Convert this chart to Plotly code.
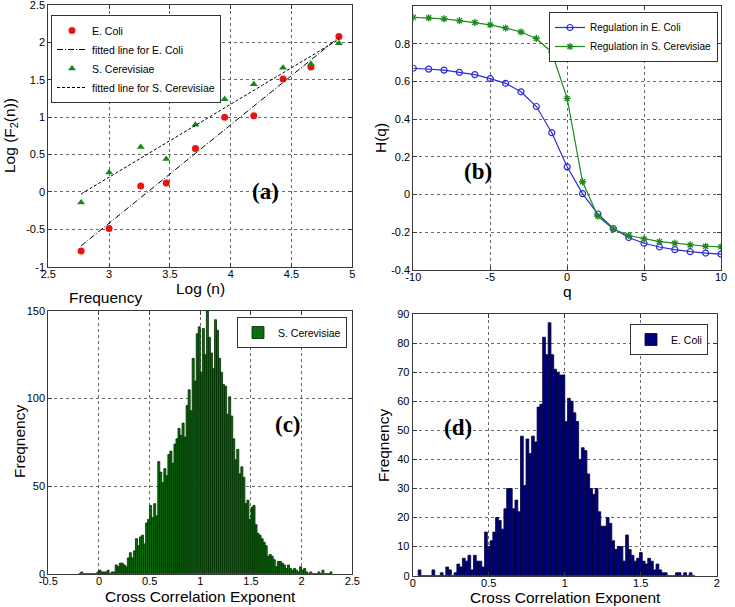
import numpy as np
import plotly.graph_objects as go

# ---------------- data ----------------
# Panel (a): log-log fluctuation function
log_n = [2.77, 3.00, 3.26, 3.47, 3.71, 3.95, 4.19, 4.43, 4.66, 4.89]
log_f2_ecoli = [-0.79, -0.49, 0.08, 0.12, 0.58, 1.00, 1.02, 1.51, 1.67, 2.08]
log_f2_scer = [-0.14, 0.26, 0.60, 0.44, 0.90, 1.24, 1.44, 1.66, 1.71, 1.99]

# Panel (b): generalized Hurst exponent
q_values = [-10, -9, -8, -7, -6, -5, -4, -3, -2, -1, 0, 1, 2, 3, 4, 5, 6, 7, 8, 9, 10]
h_ecoli = [0.670, 0.665, 0.660, 0.648, 0.636, 0.615, 0.590, 0.545, 0.467, 0.328, 0.147,
           0.005, -0.103, -0.180, -0.228, -0.258, -0.278, -0.292, -0.303, -0.310, -0.316]
h_scer = [0.940, 0.937, 0.932, 0.922, 0.913, 0.900, 0.883, 0.862, 0.828, 0.755, 0.510,
          0.068, -0.115, -0.183, -0.217, -0.235, -0.250, -0.258, -0.267, -0.274, -0.277]

# Panel (c): histogram of S. Cerevisiae cross correlation exponents
c_first_center = -0.19
c_bin_width = 0.02
c_counts = [0, 1, 0, 0, 0, 0, 0, 0, 0, 1,
            2, 1, 1, 1, 2, 0, 1, 1, 5, 4,
            6, 6, 5, 4, 9, 12, 9, 13, 20, 16,
            21, 22, 17, 29, 31, 39, 32, 40, 33, 64,
            58, 52, 60, 56, 68, 70, 63, 74, 77, 83,
            79, 86, 78, 96, 105, 93, 123, 110, 137, 141,
            115, 140, 125, 150, 135, 126, 117, 145, 139, 123,
            115, 108, 107, 91, 101, 90, 77, 65, 71, 57,
            61, 55, 40, 42, 31, 38, 39, 28, 23, 22,
            20, 18, 16, 10, 11, 10, 8, 4, 7, 7,
            6, 5, 3, 5, 3, 2, 3, 2, 1, 4,
            2, 3, 1, 0, 1, 0, 0, 0, 1, 0,
            2, 0, 0, 0, 1]

# Panel (d): histogram of E. Coli cross correlation exponents
d_first_center = 0.045
d_bin_width = 0.0182
d_counts = [2, 0, 0, 0, 0, 2, 0, 0, 1, 0,
            3, 2, 0, 1, 4, 3, 6, 5, 7, 2,
            7, 5, 5, 3, 15, 10, 12, 15, 20, 19,
            16, 23, 30, 30, 23, 26, 22, 48, 31, 47,
            42, 48, 46, 58, 59, 82, 76, 87, 76, 71,
            70, 69, 69, 53, 61, 60, 56, 53, 40, 44,
            43, 35, 30, 28, 30, 22, 17, 17, 20, 18,
            12, 9, 10, 10, 5, 14, 9, 7, 5, 6,
            8, 5, 4, 6, 5, 2, 4, 2, 1, 1,
            0, 0, 0, 1, 1, 0, 1, 0, 1, 0]

# tick values / labels
a_xticks = [2.5, 3, 3.5, 4, 4.5, 5]
a_xlabels = ['2.5', '3', '3.5', '4', '4.5', '5']
a_yticks = [-1, -0.5, 0, 0.5, 1, 1.5, 2, 2.5]
a_ylabels = ['-1', '-0.5', '0', '0.5', '1', '1.5', '2', '2.5']
b_xticks = [-10, -5, 0, 5, 10]
b_xlabels = ['-10', '-5', '0', '5', '10']
b_yticks = [-0.4, -0.2, 0, 0.2, 0.4, 0.6, 0.8]
b_ylabels = ['-0.4', '-0.2', '0', '0.2', '0.4', '0.6', '0.8']
c_xticks = [-0.5, 0, 0.5, 1, 1.5, 2, 2.5]
c_xlabels = ['-0.5', '0', '0.5', '1', '1.5', '2', '2.5']
c_yticks = [0, 50, 100, 150]
c_ylabels = ['0', '50', '100', '150']
d_xticks = [0, 0.5, 1, 1.5, 2]
d_xlabels = ['0', '0.5', '1', '1.5', '2']
d_yticks = [0, 10, 20, 30, 40, 50, 60, 70, 80, 90]
d_ylabels = [str(v) for v in d_yticks]

# ---------------- figure ----------------
W, H = 735, 607
FONT = 'Liberation Sans, Arial, sans-serif'


def px_x(p):
    return p / W


def px_y(p):
    return 1 - p / H


fig = go.Figure()

# fitted lines from the data
fit_e = np.polyfit(log_n, log_f2_ecoli, 1)
fit_s = np.polyfit(log_n, log_f2_scer, 1)
fit_x = [min(log_n), max(log_n)]

fig.add_trace(go.Scatter(x=log_n, y=log_f2_ecoli, mode='markers', name='E. Coli',
                         marker=dict(symbol='circle', size=7, color='#ee1111'),
                         xaxis='x', yaxis='y', legend='legend'))
fig.add_trace(go.Scatter(x=fit_x, y=list(np.polyval(fit_e, fit_x)), mode='lines',
                         name='fitted line for E. Coli',
                         line=dict(color='black', width=1, dash='6px,2px,1px,2px'),
                         xaxis='x', yaxis='y', legend='legend'))
fig.add_trace(go.Scatter(x=log_n, y=log_f2_scer, mode='markers', name='S. Cerevisiae',
                         marker=dict(symbol='triangle-up', size=7, color='#138a13'),
                         xaxis='x', yaxis='y', legend='legend'))
fig.add_trace(go.Scatter(x=fit_x, y=list(np.polyval(fit_s, fit_x)), mode='lines',
                         name='fitted line for S. Cerevisiae',
                         line=dict(color='black', width=1, dash='3px,2px'),
                         xaxis='x', yaxis='y', legend='legend'))

# panel (b)
fig.add_trace(go.Scatter(x=q_values, y=h_ecoli, mode='lines+markers', name='Regulation in E. Coli',
                         line=dict(color='#2b2bdc', width=1.2),
                         marker=dict(symbol='circle-open', size=6, color='#2b2bdc', line=dict(width=1.2)),
                         xaxis='x2', yaxis='y2', legend='legend2'))
fig.add_trace(go.Scatter(x=q_values, y=h_scer, mode='lines+markers', name='Regulation in S. Cerevisiae',
                         line=dict(color='#1f8a1f', width=1.2),
                         marker=dict(symbol='asterisk-open', size=6, color='#1f8a1f',
                                     line=dict(width=1.3, color='#1f8a1f')),
                         xaxis='x2', yaxis='y2', legend='legend2'))

# panel (c)
c_centers = [round(c_first_center + i * c_bin_width, 4) for i in range(len(c_counts))]
fig.add_trace(go.Bar(x=c_centers, y=c_counts, width=c_bin_width, name='S. Cerevisiae',
                     marker=dict(color='#0b6e0b', line=dict(color='#002a00', width=0.8)),
                     xaxis='x3', yaxis='y3', legend='legend3'))

# panel (d)
d_centers = [round(d_first_center + i * d_bin_width, 4) for i in range(len(d_counts))]
fig.add_trace(go.Bar(x=d_centers, y=d_counts, width=d_bin_width, name='E. Coli',
                     marker=dict(color='#00007f', line=dict(color='#000033', width=0.8)),
                     xaxis='x4', yaxis='y4', legend='legend4'))


def axis(domain, rng, tickvals, ticktext, anchor, is_x):
    d = dict(domain=domain, range=rng, tickvals=tickvals, ticktext=ticktext, anchor=anchor,
             showline=True, linecolor='#3a3a3a', linewidth=1, mirror='ticks',
             ticks='inside', ticklen=4, tickcolor='#3a3a3a', automargin=False,
             ticklabeloverflow='allow',
             showgrid=True, gridcolor='#6a6a6a', griddash='dot', gridwidth=1,
             zeroline=False, tickfont=dict(family=FONT, size=11, color='black'))
    if is_x:
        d['ticklabelstandoff'] = -3
    return d


ax_a = [px_x(48.3), px_x(352.3)]
ay_a = [px_y(266.7), px_y(5)]
ax_b = [px_x(413.3), px_x(721)]
ay_b = [px_y(270), px_y(6)]
ax_c = [px_x(48.3), px_x(352.3)]
ay_c = [px_y(573.7), px_y(311)]
ax_d = [px_x(412.7), px_x(716.7)]
ay_d = [px_y(575.7), px_y(314)]

legend_common = dict(bgcolor='white', bordercolor='#333333', borderwidth=1,
                     font=dict(family=FONT, size=10.5, color='black'),
                     tracegroupgap=0, itemwidth=30, xanchor='left', yanchor='top')

fig.update_layout(
    template='none',
    width=W, height=H, margin=dict(l=0, r=0, t=0, b=0, autoexpand=False),
    paper_bgcolor='white', plot_bgcolor='white', barmode='overlay',
    font=dict(family=FONT, color='black'),
    xaxis=axis(ax_a, [2.5, 5], a_xticks, a_xlabels, 'y', True),
    yaxis=axis(ay_a, [-1, 2.5], a_yticks, a_ylabels, 'x', False),
    xaxis2=axis(ax_b, [-10, 10], b_xticks, b_xlabels, 'y2', True),
    yaxis2=axis(ay_b, [-0.4, 1.0], b_yticks, b_ylabels, 'x2', False),
    xaxis3=axis(ax_c, [-0.5, 2.5], c_xticks, c_xlabels, 'y3', True),
    yaxis3=axis(ay_c, [0, 150], c_yticks, c_ylabels, 'x3', False),
    xaxis4=axis(ax_d, [0, 2], d_xticks, d_xlabels, 'y4', True),
    yaxis4=axis(ay_d, [0, 90], d_yticks, d_ylabels, 'x4', False),
    legend=dict(legend_common, x=px_x(51), y=px_y(15)),
    legend2=dict(legend_common, x=px_x(718), y=px_y(12), xanchor='right',
                 font=dict(family=FONT, size=10, color='black')),
    legend3=dict(legend_common, x=px_x(347), y=px_y(317), xanchor='right'),
    legend4=dict(legend_common, x=px_x(708), y=px_y(324), xanchor='right'),
    showlegend=True,
)

title_font = dict(family=FONT, size=15.5, color='black')
axis_titles = [
    ('Log (n)', 200, 288, 0),
    ('Log (F<sub>2</sub>(n))', 11, 136, -90),
    ('q', 567, 291, 0),
    ('H(q)', 380, 138, -90),
    ('Cross Correlation Exponent', 200, 596, 0),
    ('Freqnency', 19, 442, -90),
    ('Cross Correlation Exponent', 565, 597, 0),
    ('Freqnency', 383, 445, -90),
    ('Frequency', 105, 297, 0),
]
for txt, px, py, ang in axis_titles:
    fig.add_annotation(x=px_x(px), y=px_y(py), xref='paper', yref='paper', text=txt,
                       showarrow=False, textangle=ang, font=title_font,
                       xanchor='center', yanchor='middle')

label_font = dict(family='Liberation Serif, Times New Roman, serif', size=23, color='black')
fig.add_annotation(x=4.29, y=0.0, xref='x', yref='y', text='<b>(a)</b>', showarrow=False, font=label_font)
fig.add_annotation(x=-5.8, y=0.12, xref='x2', yref='y2', text='<b>(b)</b>', showarrow=False, font=label_font)
fig.add_annotation(x=1.87, y=85, xref='x3', yref='y3', text='<b>(c)</b>', showarrow=False, font=label_font)
fig.add_annotation(x=0.30, y=51, xref='x4', yref='y4', text='<b>(d)</b>', showarrow=False, font=label_font)

fig.write_html('out.html', config={'displayModeBar': False},
               post_script="document.body.style.margin='0';document.body.style.overflow='hidden';")
